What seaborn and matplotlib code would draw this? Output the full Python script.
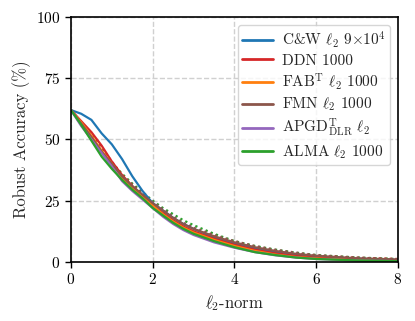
import numpy as np
import pandas as pd
import matplotlib
matplotlib.use("Agg")
import matplotlib.pyplot as plt
import seaborn as sns

# ---- data ----
EPS = [0, 0.25, 0.5, 0.75, 1.0, 1.25, 1.5, 1.75, 2.0, 2.25, 2.5, 2.75,
       3.0, 3.5, 4.0, 4.5, 5.0, 5.5, 6.0, 7.0, 8.0]

CW = [62, 60.5, 58, 52.5, 48, 42, 35, 29, 24, 21, 18, 15.5,
      13.5, 10, 7.5, 5.5, 4, 3, 2.2, 1.3, 0.8]
DDN = [62, 57.5, 53, 47.5, 41, 35.5, 31, 27, 23, 20, 17, 14.5,
       12.5, 9.5, 7, 5, 3.5, 2.5, 1.8, 1.1, 0.7]
FAB = [62, 57, 51.5, 45.5, 40, 34.5, 30.5, 26.5, 23, 19.5, 16.5, 14,
       12, 9, 6.5, 4.5, 3, 2, 1.4, 0.8, 0.4]
FMN = [62, 56.5, 51, 45, 40, 35, 31, 27.5, 24, 21, 18, 15.5,
       13.5, 10.5, 8, 6, 4.5, 3.3, 2.5, 1.5, 1.0]
APGD = [62, 55.5, 50, 44.5, 39, 33, 29, 25.5, 22, 18.5, 15.5, 13,
        11, 8, 5.8, 4, 2.7, 1.8, 1.2, 0.6, 0.3]
ALMA = [62, 56, 49.5, 43, 38, 33.5, 29.5, 26, 22, 19, 16, 13.5,
        11.5, 8.5, 6, 4, 2.8, 1.8, 1.2, 0.6, 0.3]

# dotted curves (no legend entry)
ALMA_DOT = [62, 56, 51, 46, 40.5, 36, 32, 28.5, 25, 22, 19.5, 17,
            15, 11.5, 8.5, 6.5, 5, 3.8, 2.8, 1.8, 1.2]
DDN_DOT = [62, 57, 52, 46.5, 41, 35.5, 31.5, 27.5, 24, 21, 18, 15.5,
           13.5, 10.5, 8, 6, 4.5, 3.3, 2.5, 1.7, 1.2]
FMN_DOT = [62, 56.5, 51.5, 46, 40.5, 35.5, 31.5, 28, 24.5, 21.5, 18.5, 16,
           14, 11, 8.5, 6.5, 5, 3.8, 2.8, 1.8, 1.1]

LABELS = [r"C&W $\ell_2$ $9{\times}10^4$", "DDN 1000",
          r"FAB$^{\mathrm{T}}$ $\ell_2$ 1000", r"FMN $\ell_2$ 1000",
          r"APGD$^{\mathrm{T}}_{\mathrm{DLR}}$ $\ell_2$", r"ALMA $\ell_2$ 1000"]
COLORS = ["#1f77b4", "#d62728", "#ff7f0e", "#8c564b", "#9467bd", "#2ca02c"]

sns.set_style("ticks")
plt.rcParams["font.family"] = "serif"
plt.rcParams["font.serif"] = ["cmr10"]
plt.rcParams["mathtext.fontset"] = "cm"
plt.rcParams["axes.formatter.use_mathtext"] = True
plt.rcParams["axes.unicode_minus"] = False

fig = plt.figure(figsize=(4.15, 3.21), dpi=100)
ax = fig.add_axes([0.171, 0.184, 0.788, 0.763])

for ys, c in zip([ALMA_DOT, DDN_DOT, FMN_DOT], ["#2ca02c", "#d62728", "#8c564b"]):
    sns.lineplot(x=EPS, y=ys, ax=ax, color=c, lw=1.6, ls=(0, (1, 1.5)))

for ys, lab, c in zip([CW, DDN, FAB, FMN, APGD, ALMA], LABELS, COLORS):
    sns.lineplot(x=EPS, y=ys, ax=ax, color=c, lw=1.6, label=lab)

ax.set_xlim(0, 8)
ax.set_ylim(0, 100)
ax.set_xticks([0, 2, 4, 6, 8])
ax.set_yticks([0, 25, 50, 75, 100])
ax.grid(True, ls="--", color="#d0d0d0", lw=1.0)
for s in ax.spines.values():
    s.set_color("black")
    s.set_linewidth(1.2)
ax.tick_params(labelsize=11, length=4, width=1.0, colors="black")
ax.set_xlabel(r"$\ell_2$-norm", fontsize=12)
ax.set_ylabel("Robust Accuracy (%)", fontsize=12)

leg = ax.legend(loc="upper right", fontsize=11, frameon=True, handlelength=2.0,
                borderpad=0.3, labelspacing=0.25, handletextpad=0.6)
leg.get_frame().set_edgecolor("#cccccc")
for h in leg.get_lines():
    h.set_linewidth(2.0)

fig.savefig("out.png", dpi=100)
